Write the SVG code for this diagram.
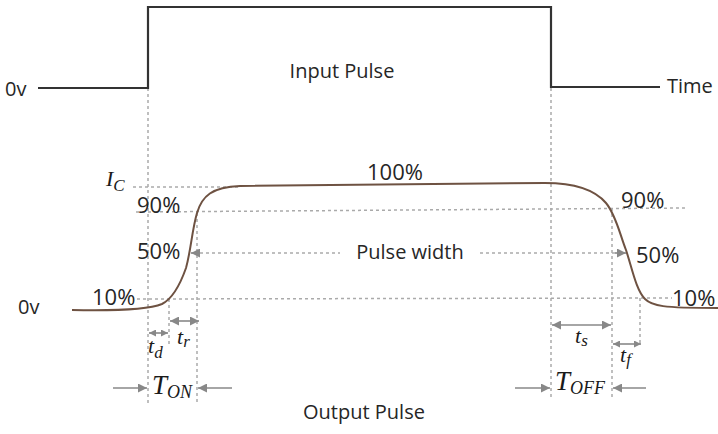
<svg xmlns="http://www.w3.org/2000/svg" width="718" height="434" viewBox="0 0 718 434">
<defs>
<style>
.lbl{font-family:"Open Sans","Liberation Sans",sans-serif;font-size:20px;fill:#262626}
.pct{font-family:"Open Sans","Liberation Sans",sans-serif;font-size:22px;fill:#262626}
.math{font-family:"Liberation Serif","DejaVu Serif",serif;font-style:italic;fill:#1a1a1a}
.dot{stroke:#aaa;stroke-width:1.5;stroke-dasharray:3,3;fill:none}
.arr{stroke:#888;stroke-width:1.6;fill:none}
</style>
<marker id="ah" viewBox="0 0 10 10" refX="10" refY="5" markerWidth="11" markerHeight="9" markerUnits="userSpaceOnUse" orient="auto-start-reverse">
<path d="M0,0 L10,5 L0,10 z" fill="#888"/>
</marker>
<marker id="ahs" viewBox="0 0 10 10" refX="10" refY="5" markerWidth="8" markerHeight="7" markerUnits="userSpaceOnUse" orient="auto-start-reverse">
<path d="M0,0 L10,5 L0,10 z" fill="#888"/>
</marker>
</defs>
<rect width="718" height="434" fill="#fff"/>

<g id="guides">
<line class="dot" x1="148" y1="88" x2="148" y2="405"/>
<line class="dot" x1="551" y1="88" x2="551" y2="397"/>
<line class="dot" x1="169" y1="299" x2="169" y2="345"/>
<line class="dot" x1="197" y1="213" x2="197" y2="405"/>
<line class="dot" x1="612" y1="208" x2="612" y2="397"/>
<line class="dot" x1="640" y1="298" x2="640" y2="345"/>
<line class="dot" x1="133" y1="187" x2="240" y2="187"/>
<line class="dot" x1="136" y1="212" x2="686" y2="208"/>
<line class="dot" x1="137" y1="299" x2="672" y2="298"/>
<line class="dot" x1="200" y1="253" x2="340" y2="253"/>
<line class="dot" x1="480" y1="253" x2="622" y2="253"/>
</g>

<g id="input-pulse">
<polyline points="38,88 148,88 148,7 551,7 551,87 660,87" fill="none" stroke="#333" stroke-width="2.2"/>
<text class="lbl" x="5" y="96">0v</text>
<text class="lbl" x="667" y="93">Time</text>
<text class="lbl" x="342" y="78" text-anchor="middle">Input Pulse</text>
</g>

<g id="output-pulse">
<path d="M72,310 C120,311 150,309 162,304 C172,299 180,285 186,268 C191,250 192,230 197,213 C202,196 212,187 240,186 L545,183 C575,183 595,190 606,203 C616,215 620,235 626,250 C632,268 636,290 645,299 C652,306 662,308 718,308" fill="none" stroke="#6e5242" stroke-width="2"/>
<text class="lbl" x="18" y="314">0v</text>
<text class="lbl" x="364" y="419" text-anchor="middle">Output Pulse</text>
<text class="pct" x="395" y="180" text-anchor="middle">100%</text>
<text class="lbl" x="410" y="259" text-anchor="middle">Pulse width</text>
<text class="pct" x="137" y="213">90%</text>
<text class="pct" x="137" y="259">50%</text>
<text class="pct" x="92" y="305">10%</text>
<text class="pct" x="621" y="208">90%</text>
<text class="pct" x="636" y="263">50%</text>
<text class="pct" x="672" y="306">10%</text>
<text class="math" x="106" y="186" font-size="22">I<tspan font-size="17" dy="5">C</tspan></text>
</g>

<g id="connectors">
<line class="arr" x1="200" y1="253" x2="191" y2="253" marker-end="url(#ah)"/>
<line class="arr" x1="615" y1="253" x2="626" y2="253" marker-end="url(#ah)"/>
<line class="arr" x1="149" y1="333" x2="168" y2="333" marker-start="url(#ahs)" marker-end="url(#ahs)"/>
<line class="arr" x1="170" y1="321" x2="199" y2="321" marker-start="url(#ah)" marker-end="url(#ah)"/>
<line class="arr" x1="113" y1="388" x2="147" y2="388" marker-end="url(#ah)"/>
<line class="arr" x1="232" y1="388" x2="198" y2="388" marker-end="url(#ah)"/>
<line class="arr" x1="552" y1="325" x2="611" y2="325" marker-start="url(#ah)" marker-end="url(#ah)"/>
<line class="arr" x1="613" y1="344" x2="641" y2="344" marker-start="url(#ahs)" marker-end="url(#ahs)"/>
<line class="arr" x1="515" y1="388" x2="550" y2="388" marker-end="url(#ah)"/>
<line class="arr" x1="646" y1="388" x2="613" y2="388" marker-end="url(#ah)"/>
</g>

<g id="time-labels">
<text class="math" x="148" y="353" font-size="22">t<tspan font-size="17" dy="5">d</tspan></text>
<text class="math" x="177" y="344" font-size="22">t<tspan font-size="17" dy="3">r</tspan></text>
<text class="math" x="152" y="394" font-size="27">T<tspan font-size="18" dy="4">ON</tspan></text>
<text class="math" x="575" y="343" font-size="22">t<tspan font-size="17" dy="3">s</tspan></text>
<text class="math" x="620" y="362" font-size="22">t<tspan font-size="17" dy="3">f</tspan></text>
<text class="math" x="555" y="390" font-size="27">T<tspan font-size="18" dy="4">OFF</tspan></text>
</g>
</svg>
